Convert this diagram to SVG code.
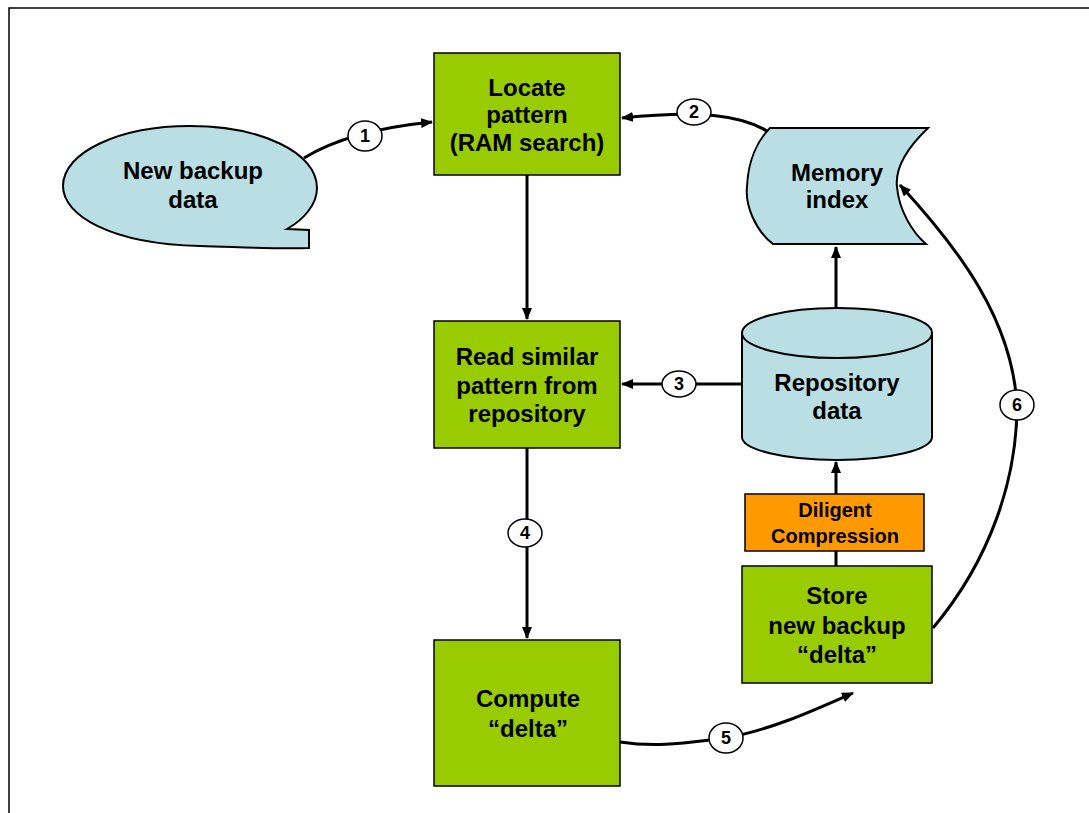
<svg xmlns="http://www.w3.org/2000/svg" width="1089" height="813" viewBox="0 0 1089 813">
  <style>
    .box { fill: #99CC00; stroke: #000; stroke-width: 1.5; }
    .blue { fill: #B9DEE3; stroke: #000; stroke-width: 2; }
    .orange { fill: #FF9900; stroke: #000; stroke-width: 1.5; }
    .t { font-family: "Liberation Sans", Arial, sans-serif; font-weight: bold; font-size: 24px; fill: #000; text-anchor: middle; }
    .ts { font-family: "Liberation Sans", Arial, sans-serif; font-weight: bold; font-size: 20px; fill: #000; text-anchor: middle; }
    .wire { fill: none; stroke: #000; stroke-width: 3; }
    .step { fill: #fff; stroke: #000; stroke-width: 1.5; }
    .num { font-family: "Liberation Sans", Arial, sans-serif; font-weight: bold; font-size: 18px; fill: #000; text-anchor: middle; }
  </style>
  <defs>
    <marker id="arrow" markerUnits="userSpaceOnUse" markerWidth="12" markerHeight="10" refX="11" refY="5" orient="auto">
      <path d="M0,0 L12,5 L0,10 Z" fill="#000"/>
    </marker>
  </defs>

  <rect width="1089" height="813" fill="#fff"/>
  <!-- page frame -->
  <path d="M9,813 L9,8 L1089,8" fill="none" stroke="#000" stroke-width="1.5"/>

  <g id="connectors">
    <path class="wire" d="M304,158 C330,142 372,128 432,122" marker-end="url(#arrow)"/>
    <path class="wire" d="M767,131 C740,115 700,110 622,118" marker-end="url(#arrow)"/>
    <path class="wire" d="M527,175 L527,319" marker-end="url(#arrow)"/>
    <path class="wire" d="M742,384 L622,384" marker-end="url(#arrow)"/>
    <path class="wire" d="M527,448 L527,638" marker-end="url(#arrow)"/>
    <path class="wire" d="M620,742 C660,748 690,742 726,738 C770,730 810,712 853,693" marker-end="url(#arrow)"/>
    <path class="wire" d="M933,628 C990,560 1017,480 1017,405 C1012,320 960,250 900,185" marker-end="url(#arrow)"/>
    <path class="wire" d="M836,308 L836,247" marker-end="url(#arrow)"/>
    <path class="wire" d="M836,494 L836,462" marker-end="url(#arrow)"/>
    <path class="wire" d="M836,566 L836,551"/>
  </g>

  <g id="new-backup-data">
    <path class="blue" d="M287,229 L309,230 L309,248 C270,249 240,247 200,246 C110,244 63,215 63,186 C63,152 120,126 190,126 C260,126 317,152 317,188 C317,205 303,220 287,229 Z"/>
    <text class="t" x="193" y="179">New backup</text>
    <text class="t" x="193" y="208">data</text>
  </g>

  <g id="locate-pattern">
    <rect class="box" x="434" y="53" width="186" height="122"/>
    <text class="t" x="527" y="96">Locate</text>
    <text class="t" x="527" y="123">pattern</text>
    <text class="t" x="527" y="151">(RAM search)</text>
  </g>

  <g id="memory-index">
    <path class="blue" d="M770,128 L928,128 C905,150 895,170 897,187 C899,210 912,232 926,244 L773,244 C755,230 745,205 747,187 C748,160 758,140 770,128 Z"/>
    <text class="t" x="837" y="181">Memory</text>
    <text class="t" x="837" y="208">index</text>
  </g>

  <g id="read-similar">
    <rect class="box" x="434" y="321" width="186" height="127"/>
    <text class="t" x="527" y="365">Read similar</text>
    <text class="t" x="527" y="394">pattern from</text>
    <text class="t" x="527" y="422">repository</text>
  </g>

  <g id="repository-data">
    <path class="blue" d="M742,333 L742,437 A95,23 0 0 0 932,437 L932,333"/>
    <ellipse class="blue" cx="837" cy="333" rx="95" ry="25"/>
    <text class="t" x="837" y="391">Repository</text>
    <text class="t" x="837" y="419">data</text>
  </g>

  <g id="diligent-compression">
    <rect class="orange" x="745" y="494" width="179" height="57"/>
    <text class="ts" x="835" y="517">Diligent</text>
    <text class="ts" x="835" y="543">Compression</text>
  </g>

  <g id="store-delta">
    <rect class="box" x="742" y="566" width="190" height="117"/>
    <text class="t" x="837" y="604">Store</text>
    <text class="t" x="837" y="634">new backup</text>
    <text class="t" x="837" y="663">“delta”</text>
  </g>

  <g id="compute-delta">
    <rect class="box" x="434" y="640" width="186" height="146"/>
    <text class="t" x="528" y="707">Compute</text>
    <text class="t" x="528" y="737">“delta”</text>
  </g>

  <g id="step-labels">
    <ellipse class="step" cx="365" cy="136" rx="17" ry="15"/>
    <text class="num" x="365" y="142">1</text>
    <ellipse class="step" cx="694" cy="112" rx="17" ry="13"/>
    <text class="num" x="694" y="118">2</text>
    <ellipse class="step" cx="679" cy="384" rx="17" ry="13"/>
    <text class="num" x="679" y="390">3</text>
    <ellipse class="step" cx="525" cy="533" rx="17" ry="14"/>
    <text class="num" x="525" y="539">4</text>
    <ellipse class="step" cx="726" cy="738" rx="17" ry="15"/>
    <text class="num" x="726" y="744">5</text>
    <ellipse class="step" cx="1017" cy="405" rx="17" ry="15"/>
    <text class="num" x="1017" y="411">6</text>
  </g>
</svg>
